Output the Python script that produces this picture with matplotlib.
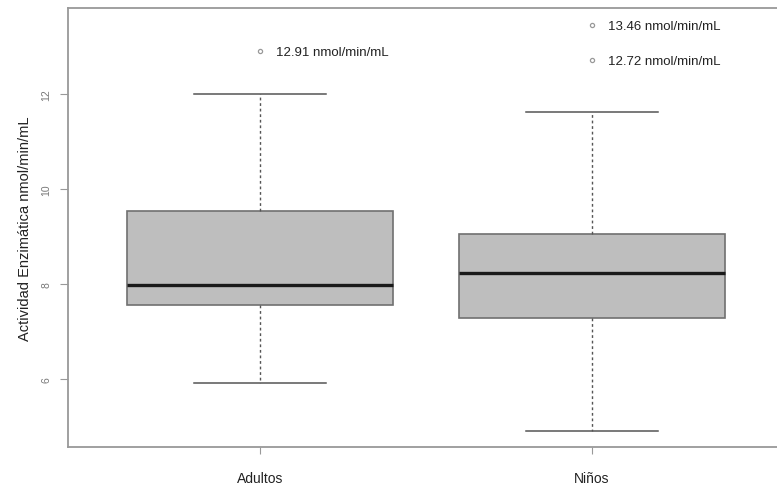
import matplotlib.pyplot as plt
import numpy as np

plt.rcParams['font.family'] = ['Liberation Sans', 'DejaVu Sans']

# summary statistics per group
groups = ['Adultos', 'Niños']
whisker_low = [5.92, 4.91]
q1 = [7.56, 7.28]
medians = [7.97, 8.23]
q3 = [9.54, 9.05]
whisker_high = [12.0, 11.62]
outliers = [[12.91], [13.46, 12.72]]

positions = [1, 2]

stats = []
for i in range(len(groups)):
    stats.append({'label': groups[i], 'whislo': whisker_low[i], 'q1': q1[i],
                  'med': medians[i], 'q3': q3[i], 'whishi': whisker_high[i],
                  'fliers': outliers[i]})

fig = plt.figure(figsize=(7.77, 4.85), dpi=100)
W, H = 777, 485
ax = fig.add_axes([68 / W, (H - 448) / H, (800 - 68) / W, (448 - 9) / H])

edge = '#707070'
ax.bxp(stats, positions=positions, widths=0.8, patch_artist=True,
       boxprops=dict(facecolor='#bebebe', edgecolor=edge, linewidth=1.2),
       medianprops=dict(color='#1a1a1a', linewidth=2.4),
       whiskerprops=dict(color='#555555', linestyle=(0, (2, 2)), linewidth=1),
       capprops=dict(color='#555555', linewidth=1.1),
       capwidths=0.4,
       flierprops=dict(marker='o', markersize=3, markerfacecolor='none',
                       markeredgecolor='#999999', markeredgewidth=0.9))

# value labels next to the outlying points
for pos, vals in zip(positions, outliers):
    for v in vals:
        ax.text(pos + 0.048, v - 0.03, f'{v:.2f} nmol/min/mL', fontsize=9.5,
                color='#222222', va='center', ha='left')

ax.set_xlim(1 - 192 / 332, 2 + (800 - 592) / 332)
ax.set_ylim(4.57, 13.81)
ax.set_yticks([6, 8, 10, 12])
ax.set_xticks(positions)
ax.set_xticklabels(groups, fontsize=10, color='#222222')
ax.tick_params(axis='y', labelrotation=90, labelsize=7.5, colors='#999999',
               labelcolor='#777777', length=6, pad=6)
ax.tick_params(axis='x', colors='#999999', labelcolor='#222222', length=5, pad=12)
for lbl in ax.get_yticklabels():
    lbl.set_va('center')

for side in ['left', 'bottom', 'top']:
    ax.spines[side].set_color('#999999')
    ax.spines[side].set_linewidth(1.3)
ax.spines['right'].set_visible(False)

ax.set_ylabel('Actividad Enzimática nmol/min/mL', fontsize=10.5, color='#222222',
              labelpad=7)

fig.savefig('out.png', dpi=100)
